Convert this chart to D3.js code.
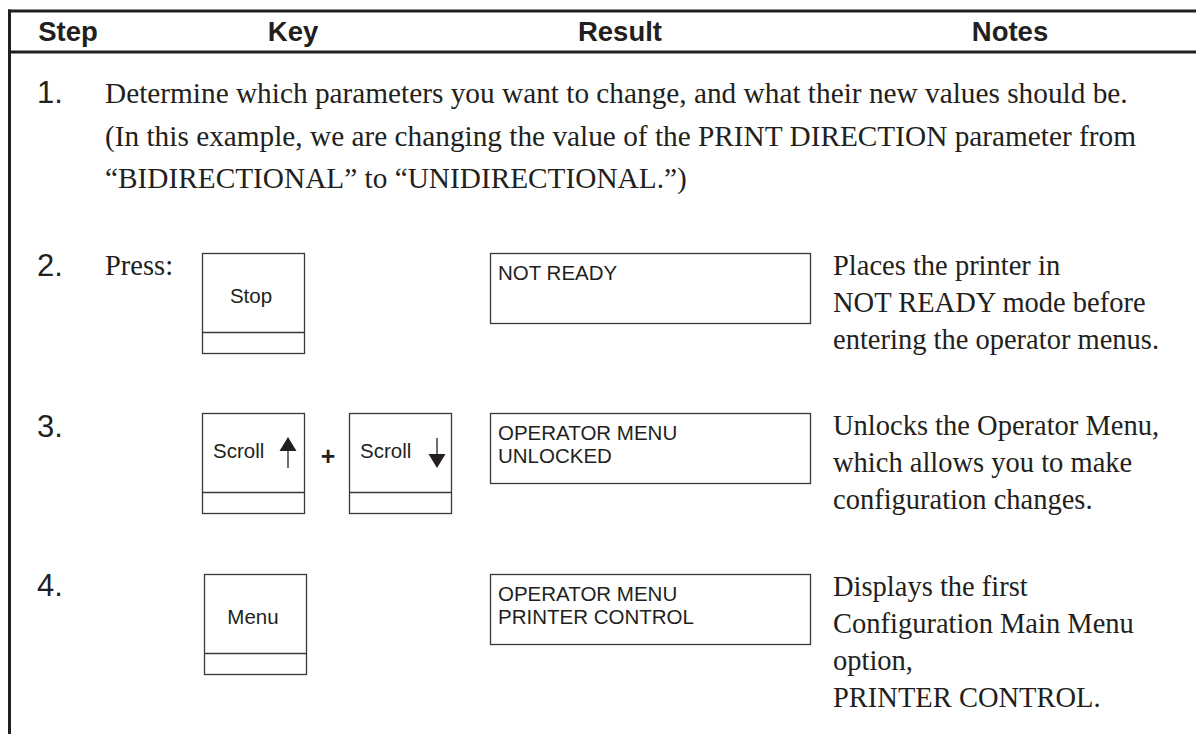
<!DOCTYPE html>
<html>
<head>
<meta charset="utf-8">
<script src="https://cdn.jsdelivr.net/npm/d3@7"></script>
<style>
  html, body { margin: 0; padding: 0; background: #fff; }
  svg { display: block; }
</style>
</head>
<body>
<script>
// ---------- data ----------
const headers = ["Step", "Key", "Result", "Notes"];
const stepNumbers = ["1.", "2.", "3.", "4."];
const introLines = [
  "Determine which parameters you want to change, and what their new values should be.",
  "(In this example, we are changing the value of the PRINT DIRECTION parameter from",
  "\u201CBIDIRECTIONAL\u201D to \u201CUNIDIRECTIONAL.\u201D)"
];
const pressLabel = ["Press:", "", ""];
const keyLabels = [["Stop"], ["Scroll", "Scroll"], ["Menu"]];
const keyArrows = [[null], ["up", "down"], [null]];
const resultLines = [
  ["NOT READY"],
  ["OPERATOR MENU", "UNLOCKED"],
  ["OPERATOR MENU", "PRINTER CONTROL"]
];
const noteLines = [
  ["Places the printer in", "NOT READY mode before", "entering the operator menus."],
  ["Unlocks the Operator Menu,", "which allows you to make", "configuration changes."],
  ["Displays the first", "Configuration Main Menu", "option,", "PRINTER CONTROL."]
];

// ---------- layout ----------
const W = 1196, H = 734;
const svg = d3.select("body").append("svg").attr("width", W).attr("height", H);

const sans = "'Liberation Sans', Arial, Helvetica, sans-serif";
const serif = "'Liberation Serif', 'Times New Roman', Times, serif";
const ink = "#231f20";
const boxInk = "#3a3a3a";

const colCenter = d3.scaleOrdinal().domain(headers).range([68, 293, 620, 1010]);
const rowTop = d3.scaleOrdinal().domain([1, 2, 3]).range([253, 413, 574]);

// frame lines
svg.append("line").attr("x1", 8).attr("x2", W).attr("y1", 11).attr("y2", 11)
  .attr("stroke", ink).attr("stroke-width", 3);
svg.append("line").attr("x1", 9.5).attr("x2", 9.5).attr("y1", 9.5).attr("y2", H)
  .attr("stroke", ink).attr("stroke-width", 3);
svg.append("line").attr("x1", 8).attr("x2", W).attr("y1", 52).attr("y2", 52)
  .attr("stroke", ink).attr("stroke-width", 3);

// headers
svg.selectAll("text.hdr").data(headers).join("text")
  .attr("class", "hdr")
  .attr("x", d => colCenter(d))
  .attr("y", 41)
  .attr("text-anchor", "middle")
  .attr("font-family", sans).attr("font-weight", "bold").attr("font-size", 27.5)
  .attr("fill", ink)
  .text(d => d);

// step numbers
const numY = [103, 276, 437, 596];
svg.selectAll("text.num").data(stepNumbers).join("text")
  .attr("class", "num")
  .attr("x", 37)
  .attr("y", (d, i) => numY[i])
  .attr("font-family", sans).attr("font-size", 31)
  .attr("fill", ink)
  .text(d => d);

// intro (step 1)
const introFs = 29.3;
const bodyFs = 28.5;
svg.selectAll("text.intro").data(introLines).join("text")
  .attr("class", "intro")
  .attr("x", 105)
  .attr("y", (d, i) => 103 + i * 42.5)
  .attr("font-family", serif).attr("font-size", introFs)
  .attr("fill", ink)
  .text(d => d);

// rows 2-4
const rows = svg.selectAll("g.row").data(d3.range(3)).join("g")
  .attr("class", "row")
  .attr("transform", i => `translate(0,${rowTop(i + 1)})`);

rows.append("text")
  .attr("x", 105).attr("y", 22)
  .attr("font-family", serif).attr("font-size", bodyFs).attr("fill", ink)
  .text(i => pressLabel[i]);

// keys
const keyX = [[202], [202, 349], [204]];
const keyW = 102, keyH = 100, keyDiv = 79;
rows.each(function(i) {
  const g = d3.select(this);
  keyLabels[i].forEach((lab, k) => {
    const kx = keyX[i][k];
    const kg = g.append("g").attr("transform", `translate(${kx},0)`);
    kg.append("rect").attr("x", 0.5).attr("y", 0.5).attr("width", keyW).attr("height", keyH)
      .attr("fill", "#fff").attr("stroke", boxInk).attr("stroke-width", 1.3);
    kg.append("line").attr("x1", 0.5).attr("x2", keyW + 0.5).attr("y1", keyDiv + 0.5).attr("y2", keyDiv + 0.5)
      .attr("stroke", boxInk).attr("stroke-width", 1.3);
    const arrow = keyArrows[i][k];
    if (arrow) {
      kg.append("text").attr("x", 11).attr("y", 45)
        .attr("font-family", sans).attr("font-size", 20.5).attr("fill", ink)
        .text(lab);
      const ax = arrow === "up" ? 86 : 88;
      if (arrow === "up") {
        kg.append("path").attr("d", `M${ax},24 L${ax - 8.5},38 L${ax + 8.5},38 Z`).attr("fill", ink);
        kg.append("line").attr("x1", ax).attr("x2", ax).attr("y1", 37).attr("y2", 55)
          .attr("stroke", ink).attr("stroke-width", 1.3);
      } else {
        kg.append("path").attr("d", `M${ax},55 L${ax - 8.5},41 L${ax + 8.5},41 Z`).attr("fill", ink);
        kg.append("line").attr("x1", ax).attr("x2", ax).attr("y1", 25).attr("y2", 42)
          .attr("stroke", ink).attr("stroke-width", 1.3);
      }
    } else {
      kg.append("text").attr("x", keyW / 2 - 2).attr("y", 50)
        .attr("text-anchor", "middle")
        .attr("font-family", sans).attr("font-size", 20.5).attr("fill", ink)
        .text(lab);
    }
  });
  if (keyLabels[i].length > 1) {
    g.append("text").attr("x", 328).attr("y", 52).attr("text-anchor", "middle")
      .attr("font-family", sans).attr("font-weight", "bold").attr("font-size", 25).attr("fill", ink)
      .text("+");
  }
});

// result boxes and notes
rows.append("rect")
  .attr("x", 490.5).attr("y", 0.5).attr("width", 320).attr("height", 70)
  .attr("fill", "#fff").attr("stroke", boxInk).attr("stroke-width", 1.3);
rows.each(function(i) {
  d3.select(this).selectAll("text.res").data(resultLines[i]).join("text")
    .attr("class", "res")
    .attr("x", 498).attr("y", (d, j) => 27 + j * 23)
    .attr("font-family", sans).attr("font-size", 20.5).attr("fill", ink)
    .text(d => d);
  d3.select(this).selectAll("text.note").data(noteLines[i]).join("text")
    .attr("class", "note")
    .attr("x", 833).attr("y", (d, j) => 22 + j * 37)
    .attr("font-family", serif).attr("font-size", bodyFs).attr("fill", ink)
    .text(d => d);
});
</script>
</body>
</html>
